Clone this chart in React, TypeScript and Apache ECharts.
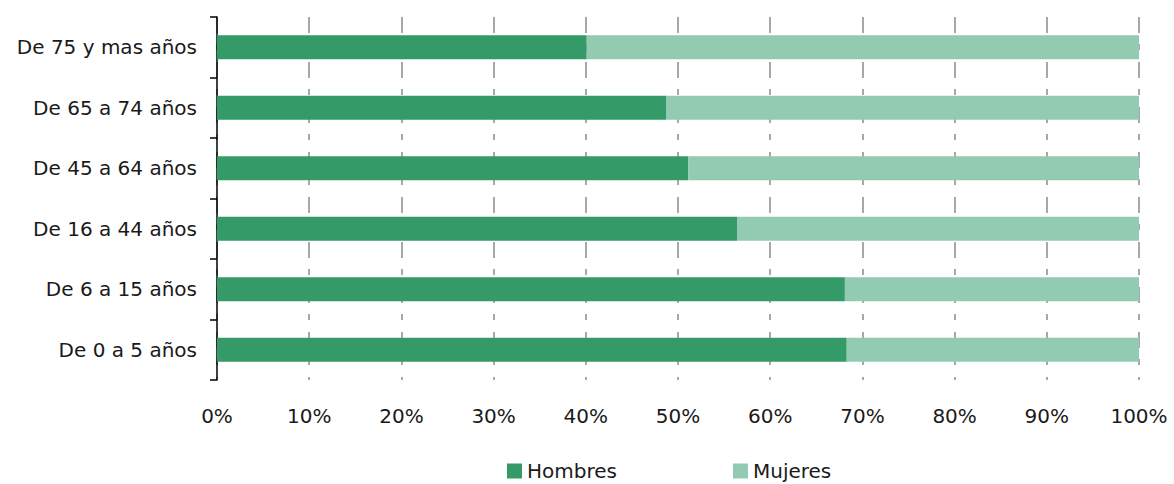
import React, { useEffect, useRef } from "react";
import * as echarts from "echarts";

const categories = [
  "De 75 y mas años",
  "De 65 a 74 años",
  "De 45 a 64 años",
  "De 16 a 44 años",
  "De 6 a 15 años",
  "De 0 a 5 años",
];
const hombres = [40.1, 48.7, 51.1, 56.4, 68.1, 68.3];
const mujeres = [59.9, 51.3, 48.9, 43.6, 31.9, 31.7];
const seriesNames = ["Hombres", "Mujeres"];

export default function App() {
  const ref = useRef<HTMLDivElement>(null);
  useEffect(() => {
    if (!ref.current) return;
    const chart = echarts.init(ref.current, null, { renderer: "svg" });
    const font = "DejaVu Sans";
    chart.setOption({
      animation: false,
      textStyle: { fontFamily: font },
      grid: { left: 217, right: 35, top: 17, bottom: 104 },
      legend: {
        left: 507,
        top: 461,
        padding: 0,
        itemWidth: 15,
        itemHeight: 15,
        itemGap: 116,
        icon: "rect",
        textStyle: { fontFamily: font, fontSize: 20, color: "#1a1a1a", lineHeight: 20 },
        data: seriesNames,
      },
      xAxis: {
        type: "value",
        min: 0,
        max: 100,
        interval: 10,
        axisLine: { show: false },
        axisTick: { show: false },
        axisLabel: {
          formatter: "{value}%",
          fontFamily: font,
          fontSize: 20,
          color: "#1a1a1a",
          margin: 26,
        },
        splitLine: {
          show: true,
          lineStyle: { color: "#8c8c8c", width: 1.5, type: [16, 11, 6, 12] },
        },
      },
      yAxis: {
        type: "category",
        inverse: true,
        data: categories,
        axisLine: { show: true, lineStyle: { color: "#000", width: 1.5 } },
        axisTick: { show: true, length: 7, lineStyle: { color: "#000", width: 1.5 } },
        axisLabel: {
          fontFamily: font,
          fontSize: 20,
          color: "#1a1a1a",
          margin: 20,
        },
        splitLine: { show: false },
      },
      series: [
        {
          name: seriesNames[0],
          type: "bar",
          stack: "total",
          barWidth: 24,
          data: hombres,
          itemStyle: { color: "#349a67" },
        },
        {
          name: seriesNames[1],
          type: "bar",
          stack: "total",
          barWidth: 24,
          data: mujeres,
          itemStyle: { color: "#92cbb2" },
        },
      ],
    });
    return () => chart.dispose();
  }, []);
  return (
    <div
      ref={ref}
      style={{ position: "absolute", left: 0, top: 0, width: 1174, height: 484, background: "#fff" }}
    />
  );
}
